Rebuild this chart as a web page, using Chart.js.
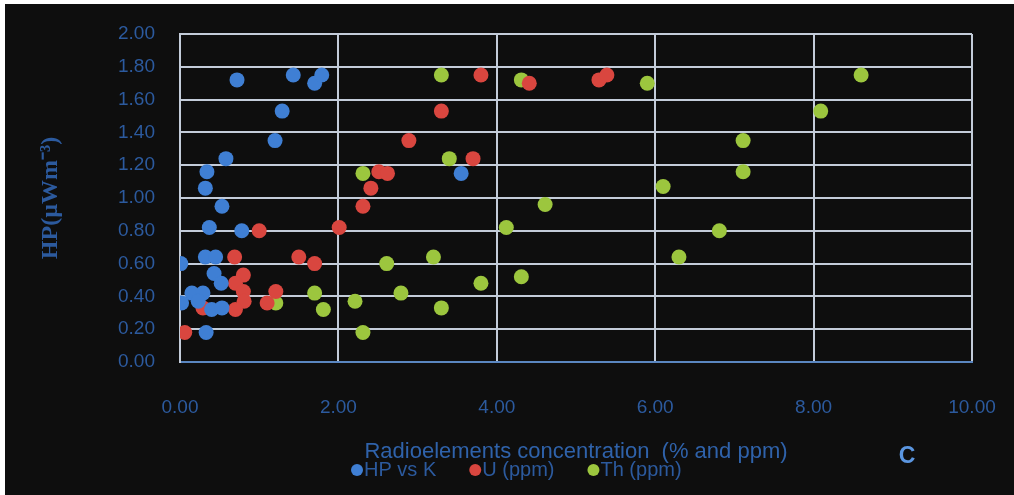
<!DOCTYPE html>
<html>
<head>
<meta charset="utf-8">
<script src="https://cdn.jsdelivr.net/npm/chart.js@4.4.1/dist/chart.umd.min.js"></script>
<style>
  html, body { margin: 0; padding: 0; background: #ffffff; }
  #wrap { position: absolute; left: 5px; top: 4px; width: 1009px; height: 491px; background: #0e0e0e; }
  canvas { display: block; }
</style>
</head>
<body>
<div id="wrap"><canvas id="c" width="1009" height="491"></canvas></div>
<script>
// Potassium (%) against heat production
const kPct = [0.72, 1.43, 1.70, 1.79, 1.29, 1.20, 0.58, 0.34, 0.32, 0.53, 0.37, 0.78, 3.55,
              0.01, 0.32, 0.45, 0.43, 0.52, 0.15, 0.29, 0.02, 0.23, 0.40, 0.53, 0.33];
const hpK  = [1.72, 1.75, 1.70, 1.75, 1.53, 1.35, 1.24, 1.16, 1.06, 0.95, 0.82, 0.80, 1.15,
              0.60, 0.64, 0.64, 0.54, 0.48, 0.42, 0.42, 0.36, 0.37, 0.32, 0.33, 0.18];

// Uranium (ppm) against heat production
const uPpm = [0.06, 0.69, 1.50, 1.70, 0.80, 0.70, 0.80, 0.81, 1.21, 1.10, 0.29, 0.70, 1.00,
              2.01, 2.31, 2.41, 2.51, 2.62, 2.89, 3.30, 3.70, 3.80, 4.41, 5.29, 5.39];
const hpU  = [0.18, 0.64, 0.64, 0.60, 0.53, 0.48, 0.43, 0.37, 0.43, 0.36, 0.33, 0.32, 0.80,
              0.82, 0.95, 1.06, 1.16, 1.15, 1.35, 1.53, 1.24, 1.75, 1.70, 1.72, 1.75];

// Thorium (ppm) against heat production
const thPpm = [1.21, 1.70, 1.81, 2.21, 2.31, 2.31, 2.61, 2.79, 3.20, 3.30, 3.30, 3.40, 3.80,
               4.12, 4.31, 4.31, 4.61, 5.90, 6.10, 6.30, 6.81, 7.11, 7.11, 8.09, 8.60];
const hpTh  = [0.36, 0.42, 0.32, 0.37, 0.18, 1.15, 0.60, 0.42, 0.64, 0.33, 1.75, 1.24, 0.48,
               0.82, 0.52, 1.72, 0.96, 1.70, 1.07, 0.64, 0.80, 1.35, 1.16, 1.53, 1.75];

const seriesNames = ['HP vs K', 'U (ppm)', 'Th (ppm)'];
const seriesColors = ['#3f7fd4', '#d9463f', '#9cc63e'];

const xTicks = [0, 2, 4, 6, 8, 10];
const yTicks = [0, 0.2, 0.4, 0.6, 0.8, 1.0, 1.2, 1.4, 1.6, 1.8, 2.0];

const xTitle = 'Radioelements concentration  (% and ppm)';
const yTitle = 'HP(\u00b5Wm\u207b\u00b3)';
const panelTag = 'C';

const pairs = (xs, ys) => xs.map((x, i) => ({ x: x, y: ys[i] }));

const textBlue = '#2c5a9e';
const gridColor = '#c3ccd9';
const sans = '"Liberation Sans", Arial, sans-serif';

// Axis titles, legend and panel letter drawn around the plot
const decorations = {
  id: 'decorations',
  afterDraw(chart) {
    const ctx = chart.ctx;
    const area = chart.chartArea;
    ctx.save();

    // y axis title (rotated)
    ctx.fillStyle = textBlue;
    ctx.font = 'bold 24px "Liberation Serif", "Times New Roman", serif';
    ctx.textAlign = 'center';
    ctx.textBaseline = 'middle';
    ctx.translate(46, (area.top + area.bottom) / 2);
    ctx.rotate(-Math.PI / 2);
    ctx.fillText(yTitle, 0, 0);
    ctx.setTransform(1, 0, 0, 1, 0, 0);

    // x axis title
    ctx.font = '22px ' + sans;
    ctx.fillStyle = '#2f62aa';
    ctx.textAlign = 'center';
    ctx.fillText(xTitle, (area.left + area.right) / 2, 448);

    // legend
    ctx.font = '20px ' + sans;
    ctx.textAlign = 'left';
    const r = 6;
    let x = 346;
    const y = 466;
    chart.data.datasets.forEach((ds) => {
      ctx.beginPath();
      ctx.arc(x + r, y, r, 0, Math.PI * 2);
      ctx.fillStyle = ds.backgroundColor;
      ctx.fill();
      ctx.fillStyle = textBlue;
      const tx = x + 2 * r + 1;
      ctx.fillText(ds.label, tx, y);
      x = tx + ctx.measureText(ds.label).width + 33;
    });

    // panel letter
    ctx.font = 'bold 23px ' + sans;
    ctx.fillStyle = '#5b96e0';
    ctx.textAlign = 'center';
    ctx.fillText(panelTag, 902, 453);

    ctx.restore();
  }
};

new Chart(document.getElementById('c'), {
  type: 'scatter',
  data: {
    datasets: [
      { label: seriesNames[0], data: pairs(kPct, hpK), backgroundColor: seriesColors[0] },
      { label: seriesNames[1], data: pairs(uPpm, hpU), backgroundColor: seriesColors[1] },
      { label: seriesNames[2], data: pairs(thPpm, hpTh), backgroundColor: seriesColors[2] }
    ].map(d => Object.assign(d, { borderWidth: 0, pointRadius: 7.5, pointHoverRadius: 7.5 }))
  },
  options: {
    responsive: false,
    animation: false,
    devicePixelRatio: 1,
    layout: { padding: { top: 30, right: 42, left: 0, bottom: 0 } },
    plugins: { legend: { display: false }, tooltip: { enabled: false } },
    scales: {
      x: {
        type: 'linear',
        min: xTicks[0],
        max: xTicks[xTicks.length - 1],
        afterBuildTicks: (s) => { s.ticks = xTicks.map(v => ({ value: v })); },
        afterFit: (s) => { s.height = 133; s.paddingLeft = 0; s.paddingRight = 0; },
        ticks: {
          color: textBlue,
          font: { family: sans, size: 19 },
          padding: 34,
          callback: (v) => Number(v).toFixed(2)
        },
        grid: { color: gridColor, lineWidth: 2, drawTicks: false },
        border: { color: '#5a86c0', width: 2 }
      },
      y: {
        type: 'linear',
        min: yTicks[0],
        max: yTicks[yTicks.length - 1],
        afterBuildTicks: (s) => { s.ticks = yTicks.map(v => ({ value: v })); },
        afterFit: (s) => { s.width = 175; s.paddingTop = 0; s.paddingBottom = 0; },
        ticks: {
          color: textBlue,
          font: { family: sans, size: 19 },
          padding: 25,
          callback: (v) => Number(v).toFixed(2)
        },
        grid: { color: gridColor, lineWidth: 2, drawTicks: false },
        border: { color: gridColor, width: 2 }
      }
    }
  },
  plugins: [decorations]
});
</script>
</body>
</html>
